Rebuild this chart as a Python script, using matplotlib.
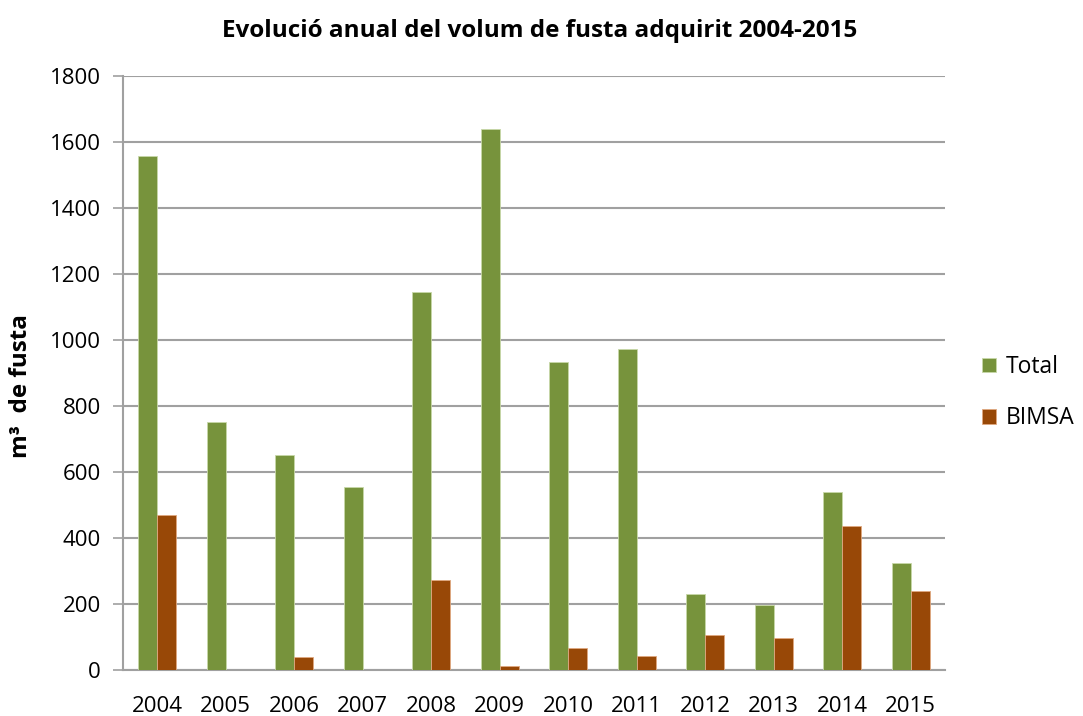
import matplotlib.pyplot as plt
import numpy as np

years = ["2004", "2005", "2006", "2007", "2008", "2009",
         "2010", "2011", "2012", "2013", "2014", "2015"]
total = [1557, 752, 652, 555, 1144, 1640, 933, 974, 230, 197, 538, 323]
bimsa = [470, 0, 39, 0, 274, 13, 66, 44, 106, 97, 435, 238]

green = "#77933C"
brown = "#984807"
grid_col = "#A0A0A0"

fig = plt.figure(figsize=(10.83, 7.16), dpi=100)
ax = fig.add_axes([0.1136, 0.0642, 0.759, 0.8297])

x = np.arange(len(years))
w = 0.28
ax.bar(x - w / 2, total, w, color=green, edgecolor="#C8D8A8", linewidth=0.6,
       label="Total", zorder=3)
ax.bar(x + w / 2, bimsa, w, color=brown, edgecolor="#E0A880", linewidth=0.6,
       label="BIMSA", zorder=3)

ax.set_xlim(-0.5, len(years) - 0.5)
ax.set_ylim(0, 1800)
ax.set_yticks(range(0, 1801, 200))
ax.set_xticks(x)
ax.set_xticklabels(years)
ax.yaxis.grid(True, color=grid_col, linewidth=1.5, zorder=0)

for s in ["top", "right"]:
    ax.spines[s].set_visible(False)
for s in ["left", "bottom"]:
    ax.spines[s].set_color(grid_col)
    ax.spines[s].set_linewidth(1.5)

ax.tick_params(axis="y", direction="out", length=7, color=grid_col, width=1.2,
               labelsize=16, pad=9)
ax.tick_params(axis="x", length=0, labelsize=16, pad=19)
for lab in ax.get_xticklabels() + ax.get_yticklabels():
    lab.set_fontfamily("Open Sans")

ax.set_ylabel("m³  de fusta", fontsize=17.5, fontweight="bold",
              fontfamily="Open Sans")
ax.yaxis.set_label_coords(-0.11, 0.478)
fig.suptitle("Evolució anual del volum de fusta adquirit 2004-2015",
             x=0.498, y=0.973, fontsize=17.5, fontweight="bold",
             fontfamily="Open Sans")

leg = ax.legend(loc="center left", bbox_to_anchor=(1.02, 0.467), frameon=False,
                prop={"family": "Open Sans", "size": 16.5},
                handlelength=0.6, handleheight=0.6, labelspacing=1.2,
                handletextpad=0.45)

fig.savefig("out.png", dpi=100)
